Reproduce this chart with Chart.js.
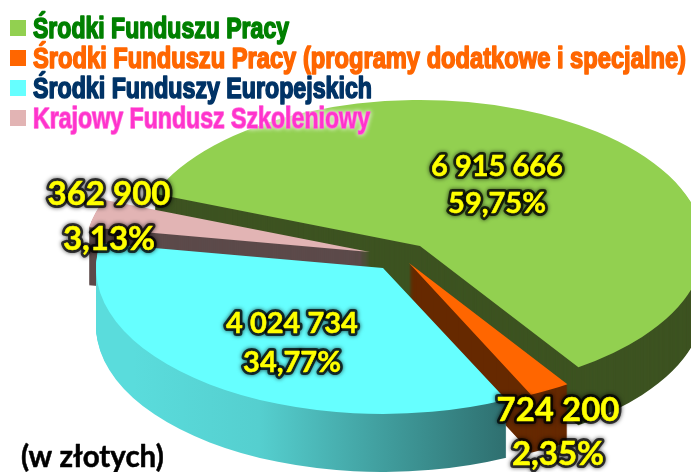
<!DOCTYPE html>
<html><head><meta charset="utf-8">
<style>html,body{margin:0;padding:0;background:#fff}canvas{display:block}</style>
<script src="https://cdn.jsdelivr.net/npm/chart.js@4"></script>
</head><body>
<canvas id="c" width="691" height="472"></canvas>
<script>
const categories = ['Środki Funduszu Pracy','Środki Funduszu Pracy (programy dodatkowe i specjalne)','Środki Funduszy Europejskich','Krajowy Fundusz Szkoleniowy'];
const sharePercent = [59.75, 2.35, 34.77, 3.13];
const amountLabels = ['6 915 666','724 200','4 024 734','362 900'];
const percentLabels = ['59,75%','2,35%','34,77%','3,13%'];
const unitNote = '(w złotych)';

const faceColors = ['#92D050','#FF6600','#66FFFF','#E2B4B4'];
const wallColors = ['#3D5321','#662900',null,'#5C4A4A'];
const legendColors = ['#008000','#FF6600','#003366','#FF33CC'];
const legendWidths = [256,653,339,337];

// exploded-slice layout: apex of each slice, its horizontal radius
const layout = [
  {x:420,y:246,r:284},
  {x:409,y:263,r:284},
  {x:383,y:268,r:287},
  {x:370,y:252,r:285}
];
const RY = 146, DEPTH = 58;
const drawOrder = [0,3,1,2];
const textLayout = [
  {x:497,a:176,p:213,s:29},
  {x:558,a:421,p:465,s:33},
  {x:292,a:333,p:372,s:29},
  {x:109,a:205,p:250,s:33}
];

function plainOpts(c){
  return {backgroundColor:c,borderColor:c,borderWidth:0,offset:0,spacing:0,borderRadius:0,circular:true,selfJoin:false,borderAlign:'center',borderJoinStyle:'round',borderDash:[],borderDashOffset:0};
}
const pie3d = {
  id:'pie3d',
  beforeDatasetsDraw(chart){
    const ctx = chart.ctx, arcs = chart.getDatasetMeta(0).data;
    const wallGrad = ctx.createLinearGradient(96,0,514,0);
    wallGrad.addColorStop(0,'#5ADCDC');
    wallGrad.addColorStop(0.3,'#55CFCF');
    wallGrad.addColorStop(0.62,'#3F9A9A');
    wallGrad.addColorStop(1,'#285E5E');
    drawOrder.forEach(i=>{
      const arc = arcs[i], L = layout[i], saved = arc.options, savedR = arc.outerRadius;
      arc.outerRadius = L.r;
      const paint = (dy,color)=>{
        arc.options = plainOpts(color);
        ctx.save();
        ctx.translate(L.x, L.y+dy);
        ctx.scale(1, RY/L.r);
        ctx.translate(-arc.x,-arc.y);
        arc.draw(ctx);
        ctx.restore();
      };
      for(let d=DEPTH; d>=1; d--) paint(d, wallColors[i] || wallGrad);
      paint(0, faceColors[i]);
      arc.options = saved; arc.outerRadius = savedR;
    });
    return false;
  },
  afterDraw(chart){
    const ctx = chart.ctx;
    ctx.save();
    ctx.textAlign='center'; ctx.textBaseline='alphabetic'; ctx.lineJoin='round';
    const glow=(t,x,y,font)=>{
      ctx.font=font;
      ctx.shadowColor='rgba(0,0,0,0.9)'; ctx.shadowBlur=4;
      ctx.strokeStyle='rgba(0,0,0,0.72)'; ctx.lineWidth=6;
      ctx.strokeText(t,x,y);
      ctx.shadowBlur=0; ctx.shadowColor='transparent';
      ctx.fillStyle='#FFFF00';
      ctx.strokeStyle='#FFFF00'; ctx.lineWidth=0.5;
      ctx.strokeText(t,x,y);
      ctx.fillText(t,x,y);
    };
    textLayout.forEach((T,i)=>{
      const font='bold '+T.s+'px Lato';
      glow(amountLabels[i],T.x,T.a,font);
      glow(percentLabels[i],T.x,T.p,font);
    });
    ctx.textAlign='left';
    ctx.fillStyle='#000'; ctx.font='bold 29.5px Lato';
    ctx.fillText(unitNote,21,467);
    ctx.strokeStyle='#000'; ctx.lineWidth=0.5; ctx.strokeText(unitNote,21,467);
    // legend
    ctx.font='bold 29px "Liberation Sans"';
    categories.forEach((t,i)=>{
      const cy=28+i*30;
      ctx.fillStyle=faceColors[i];
      ctx.fillRect(10,cy-8,16,16);
      const sx = legendWidths[i]/ctx.measureText(t).width;
      ctx.save();
      ctx.translate(33,cy+10);
      ctx.scale(sx,1);
      ctx.strokeStyle=legendColors[i]; ctx.lineWidth=1.6;
      ctx.fillStyle=legendColors[i];
      if(i===3){ctx.shadowColor='rgba(255,255,255,0.9)';ctx.shadowBlur=5;}
      ctx.strokeText(t,0,0);
      ctx.fillText(t,0,0);
      ctx.restore();
    });
    ctx.restore();
  }
};
new Chart(document.getElementById('c'),{
  type:'pie',
  data:{labels:categories,datasets:[{data:sharePercent,backgroundColor:faceColors,borderWidth:0,radius:280}]},
  options:{
    responsive:false,animation:false,rotation:291,
    layout:{padding:0},
    plugins:{legend:{display:false},tooltip:{enabled:false}}
  },
  plugins:[pie3d]
});
</script>
</body></html>
